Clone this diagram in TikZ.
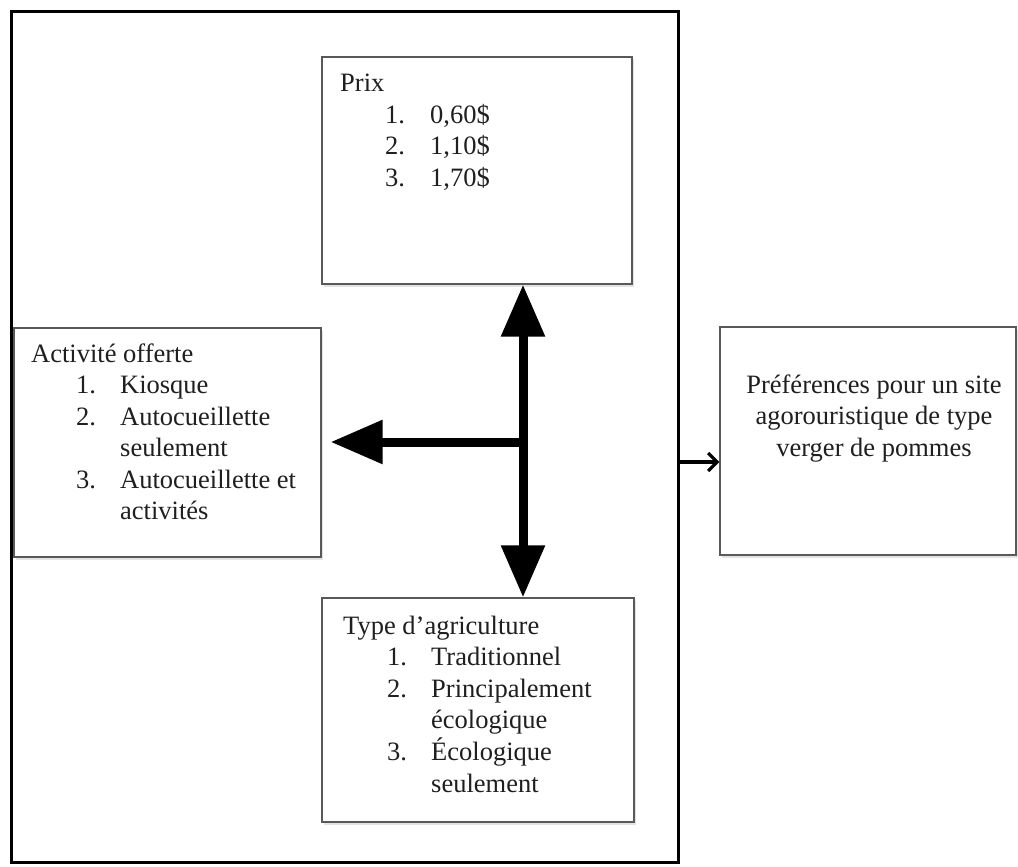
\documentclass[tikz,border=0pt]{standalone}
\usepackage{fontspec}
\setmainfont{Liberation Serif}
\usetikzlibrary{arrows.meta,shadows}
\tikzset{
  box/.style={rectangle, draw=black!65, line width=1.3pt, fill=white, inner sep=0pt,
    drop shadow={opacity=0.22, shadow xshift=1.5pt, shadow yshift=-2.5pt}},
  frame/.style={rectangle, draw=black, line width=3pt, inner sep=0pt},
  txt/.style={inner sep=0pt, anchor=base west, text=black!88,
    font=\fontsize{26.5}{31.5}\selectfont},
  ctxt/.style={inner sep=0pt, anchor=base, text=black!88,
    font=\fontsize{26.5}{31.5}\selectfont},
  bigarrow/.style={line width=9pt, black},
  bigtip/.style={-{Triangle[length=52pt,width=42pt]}},
  smallarrow/.style={line width=3.2pt, black, -{Straight Barb[length=9pt,width=18pt]}}
}
\begin{document}
\begin{tikzpicture}[x=1pt,y=-1pt]
\useasboundingbox (0,0) rectangle (1018,867);
\fill[white] (0,0) rectangle (1018,867);

% outer frame
\node[frame, minimum width=667pt, minimum height=850pt] (frame) at (344.5,437) {};

% boxes
\node[box, minimum width=310pt, minimum height=227pt] (prix) at (477,170.5) {};
\node[box, minimum width=307pt, minimum height=229pt] (act) at (167.5,442.5) {};
\node[box, minimum width=312pt, minimum height=224pt] (type) at (478,710) {};
\node[box, minimum width=296pt, minimum height=228pt] (pref) at (868,441) {};

% texts
\node[txt] (prixt) at (340,92) {\begin{tabular}[t]{@{}l@{}l@{}l@{}}
\multicolumn{3}{@{}l@{}}{Prix}\\
\hspace*{45pt}&\makebox[45pt][l]{1.}&0,60\$\\
&\makebox[45pt][l]{2.}&1,10\$\\
&\makebox[45pt][l]{3.}&1,70\$
\end{tabular}};

\node[txt] (actt) at (31,362) {\begin{tabular}[t]{@{}l@{}l@{}l@{}}
\multicolumn{3}{@{}l@{}}{Activité offerte}\\
\hspace*{45pt}&\makebox[44pt][l]{1.}&Kiosque\\
&\makebox[44pt][l]{2.}&Autocueillette\\
&&seulement\\
&\makebox[44pt][l]{3.}&Autocueillette et\\
&&activités
\end{tabular}};

\node[txt] (typet) at (343,634) {\begin{tabular}[t]{@{}l@{}l@{}l@{}}
\multicolumn{3}{@{}l@{}}{Type d’agriculture}\\
\hspace*{44pt}&\makebox[44pt][l]{1.}&Traditionnel\\
&\makebox[44pt][l]{2.}&Principalement\\
&&écologique\\
&\makebox[44pt][l]{3.}&Écologique\\
&&seulement
\end{tabular}};

\node[ctxt] (preft) at (874,393) {\begin{tabular}[t]{@{}c@{}}
Préférences pour un site\\
agorouristique de type\\
verger de pommes
\end{tabular}};

% connectors
\coordinate (j) at (523,442);
\draw[bigarrow, bigtip, shorten >=9pt] (j) -- (act.east |- j);
\draw[bigarrow, {Triangle[length=52pt,width=42pt]}-{Triangle[length=52pt,width=42pt]}] (prix.south -| j) -- (type.north -| j);

\coordinate (out) at (678,462);
\draw[smallarrow] (out) -- (out -| pref.west);
\end{tikzpicture}
\end{document}
